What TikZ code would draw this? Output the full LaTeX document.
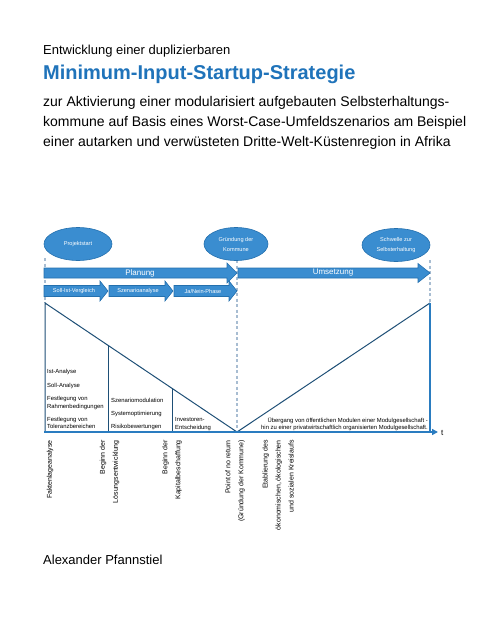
\documentclass[tikz,border=0pt]{standalone}
\usepackage{fontspec}
\setmainfont{Liberation Sans}
\usetikzlibrary{arrows.meta,shapes.geometric}
\definecolor{titleblue}{HTML}{1F73BA}
\definecolor{fillblue}{HTML}{3A8DD0}
\definecolor{edgeblue}{HTML}{2470AE}
\definecolor{darkline}{HTML}{1E4F76}
\definecolor{axisblue}{HTML}{2A7CC0}
\definecolor{dashgray}{HTML}{A8BDD2}
\newcommand{\fs}[2]{\fontsize{#1}{#2}\selectfont}
\newcommand{\blockarrow}[6]{% x1, x2, yc, halfbody, halfhead, headlen
  \filldraw[arrowbox] (#1,#3-#4) -- (#2-#6,#3-#4) -- (#2-#6,#3-#5) -- (#2,#3)
    -- (#2-#6,#3+#5) -- (#2-#6,#3+#4) -- (#1,#3+#4) -- cycle;}
\begin{document}
\begin{tikzpicture}[x=1pt,y=-1pt,
  arrowbox/.style={fill=fillblue,draw=edgeblue,line width=0.6pt},
  milestone/.style={ellipse,fill=fillblue,draw=edgeblue,line width=0.6pt,
    minimum width=68pt,minimum height=33pt,inner sep=0pt,text=white,
    align=center,font=\fs{5.6}{10}},
  arrowtext/.style={text=white,inner sep=0pt},
  guide/.style={dashgray,dashed,line width=1.2pt,dash pattern=on 3pt off 2.5pt},
  phase/.style={darkline,line width=1pt},
  coltext/.style={anchor=west,inner sep=0pt,align=left,font=\fs{5.9}{7.3}},
  vlabel/.style={rotate=90,anchor=east,inner sep=0pt,align=right,font=\fs{7}{13}},
  bodyline/.style={anchor=base west,inner sep=0pt,font=\fs{14}{20}},
]
\useasboundingbox (0,0) rectangle (480,621);

% Title block
\node[anchor=base west,inner sep=0pt,font=\fs{13}{15}] (t1) at (43,54) {Entwicklung einer duplizierbaren};
\node[anchor=base west,inner sep=0pt,font=\fs{20}{24}\bfseries,text=titleblue] (t2) at (43,79) {Minimum-Input-Startup-Strategie};
\node[bodyline] (t3) at (43,106) {zur Aktivierung einer modularisiert aufgebauten Selbsterhaltungs-};
\node[bodyline] (t4) at (43,126) {kommune auf Basis eines Worst-Case-Umfeldszenarios am Beispiel};
\node[bodyline] (t5) at (43,146) {einer autarken und verwüsteten Dritte-Welt-Küstenregion in Afrika};

% dashed guides
\coordinate (g1a) at (45,258); \coordinate (g1b) at (45,303);
\coordinate (g2a) at (237,260); \coordinate (g2b) at (237,432);
\coordinate (g3a) at (430,260); \coordinate (g3b) at (430,303);
\draw[guide] (g1a) -- (g1b);
\draw[guide] (g2a) -- (g2b);
\draw[guide] (g3a) -- (g3b);

% milestones
\node[milestone] (ms1) at (78,244) {Projektstart};
\node[milestone,minimum width=64pt] (ms2) at (236,244) {Gründung der\\Kommune};
\node[milestone] (ms3) at (396,245) {Schwelle zur\\Selbsterhaltung};

% phase arrows
\blockarrow{44}{237}{273}{5}{10}{10}
\blockarrow{238}{430}{273}{5}{9.5}{12}
\node[arrowtext,font=\fs{8}{9}] (planung) at (140,273) {Planung};
\node[arrowtext,font=\fs{8}{9}] (umsetzung) at (333,273) {Umsetzung};

\blockarrow{44}{108}{291}{5.5}{10}{8}
\blockarrow{109}{173}{291}{5.5}{10}{8}
\blockarrow{174}{237}{291}{5.5}{10}{8}
\node[arrowtext,font=\fs{5.6}{7}] (sa1) at (74,291) {Soll-Ist-Vergleich};
\node[arrowtext,font=\fs{5.6}{7}] (sa2) at (138,291) {Szenarioanalyse};
\node[arrowtext,font=\fs{5.6}{7}] (sa3) at (203,291) {Ja/Nein-Phase};

% triangle diagram
\coordinate (p0) at (45,303);
\coordinate (pb) at (45,432);
\coordinate (low) at (237,432);
\coordinate (p4) at (430,303);
\coordinate (p4b) at (430,432);
\coordinate (c1t) at (108,346); \coordinate (c1b) at (108,432);
\coordinate (c2t) at (172,389); \coordinate (c2b) at (172,432);
\draw[phase] (pb) -- (p0) -- (low) -- (p4);
\draw[phase] (c1t) -- (c1b);
\draw[phase] (c2t) -- (c2b);
\draw[axisblue,line width=1.3pt] (p4) -- (p4b);

% time axis
\coordinate (ax0) at (44,432);
\coordinate (ax1) at (438,432);
\draw[axisblue,line width=1.5pt,-{Triangle[length=6pt,width=6pt]}] (ax0) -- (ax1);
\node[anchor=west,inner sep=0pt,font=\fs{8}{9}] (tlab) at (441,433) {t};

% column texts
\node[coltext] (ia) at (47,372) {Ist-Analyse};
\node[coltext] (sa) at (47,386) {Soll-Analyse};
\node[coltext] (fr) at (47,403) {Festlegung von\\Rahmenbedingungen};
\node[coltext] (ft) at (47,423) {Festlegung von\\Toleranzbereichen};
\node[coltext] (sm) at (111,400) {Szenariomodulation};
\node[coltext] (so) at (111,414) {Systemoptimierung};
\node[coltext] (rb) at (111,427) {Risikobewertungen};
\node[coltext] (ie) at (175,424) {Investoren-\\Entscheidung};
\node[anchor=east,inner sep=0pt,align=right,font=\fs{5.9}{7.3}] (ue) at (428,424)
  {Übergang von öffentlichen Modulen einer Modulgesellschaft -\\
   hin zu einer privatwirtschaftlich organisierten Modulgesellschaft.};

% rotated milestone labels
\node[vlabel] (v1) at (50,440) {Faktenlageanalyse};
\node[vlabel] (v2) at (109.5,440) {Beginn der\\Lösungsentwicklung};
\node[vlabel] (v3) at (172,440) {Beginn der\\Kapitalbeschaffung};
\node[vlabel] (v4) at (235,440) {Point of no return\\(Gründung der Kommune)};
\node[vlabel] (v5) at (278,440) {Etablierung des\\ökonomischen, ökologischen\\und sozialen Kreislaufs};

% author
\node[anchor=base west,inner sep=0pt,font=\fs{13}{15}] (author) at (43,564) {Alexander Pfannstiel};
\end{tikzpicture}
\end{document}
